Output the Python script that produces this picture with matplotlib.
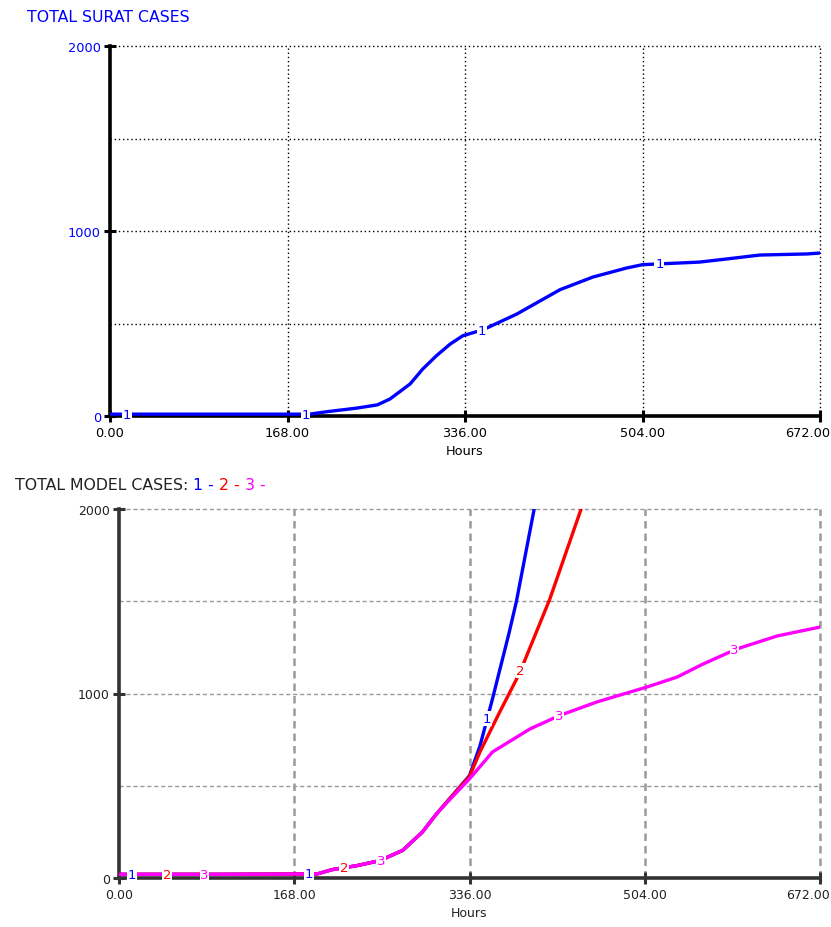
import numpy as np
import matplotlib
matplotlib.use("Agg")
import matplotlib.pyplot as plt
from matplotlib.transforms import ScaledTranslation

# ---------------- data ----------------
x_ticks = [0, 168, 336, 504, 672]
x_tick_labels = ["0.00", "168.00", "336.00", "504.00", "672.00"]
y_ticks = [0, 1000, 2000]
y_tick_labels = ["0", "1000", "2000"]
y_grid = [500, 1000, 1500, 2000]

surat_hours = [0, 100, 175, 189, 205, 234, 253, 265, 284, 296, 309, 322, 334, 353,
               385, 426, 457, 489, 504, 558, 584, 615, 660, 672]
surat_cases = [10, 10, 10, 10, 23, 43, 60, 92, 173, 254, 326, 389, 434, 466,
               551, 683, 751, 800, 818, 832, 849, 870, 876, 881]
surat_label_hours = [16, 185, 352, 520]

m1_hours = [0, 100, 190, 204, 228, 250, 272, 291, 304, 317, 336, 346, 358, 374, 381, 398]
m1_cases = [20, 20, 22, 45, 67, 94, 150, 250, 345, 430, 555, 715, 970, 1330, 1500, 2000]
m2_hours = [0, 100, 190, 204, 228, 250, 272, 291, 304, 317, 336, 346, 365, 384, 413, 443]
m2_cases = [20, 20, 22, 45, 67, 94, 150, 250, 345, 430, 550, 683, 900, 1110, 1512, 2000]
m3_hours = [0, 100, 190, 204, 228, 250, 272, 291, 304, 317, 336, 358, 394, 422, 458,
            506, 535, 560, 592, 631, 672]
m3_cases = [20, 20, 22, 45, 67, 94, 150, 250, 345, 425, 537, 683, 808, 880, 954,
            1035, 1089, 1160, 1241, 1312, 1360]
m1_label_hours = [12.5, 182, 353]
m2_label_hours = [46, 216, 385]
m3_label_hours = [82, 251, 422, 590]

BLUE = "#0000ff"
RED = "#ff0000"
MAG = "#ff00ff"

W, H = 831, 928
plt.rcParams['font.family'] = ['DejaVu Sans']
fig = plt.figure(figsize=(W / 100, H / 100), dpi=100)


def make_axes(left, right, top, bottom):
    return fig.add_axes([left / W, 1 - bottom / H, (right - left) / W, (bottom - top) / H])


def style_axes(ax, grid_color, grid_ls, grid_lw, vgrid_lw, spine_color, ylab_color, text_color, tick_fs):
    ax.set_xlim(0, 672)
    ax.set_ylim(0, 2000)
    for s in ["top", "right"]:
        ax.spines[s].set_visible(False)
    for s in ["left", "bottom"]:
        ax.spines[s].set_linewidth(2.6)
        ax.spines[s].set_color(spine_color)
        ax.spines[s].set_zorder(1.5)
    for v in y_grid:
        ax.axhline(v, color=grid_color, ls=grid_ls, lw=grid_lw, clip_on=False, zorder=1)
    for h in x_ticks[1:]:
        ax.axvline(h, color=grid_color, ls=grid_ls, lw=vgrid_lw, clip_on=False, zorder=1)
    ax.set_xticks(x_ticks)
    ax.set_xticklabels(x_tick_labels)
    ax.set_yticks(y_ticks)
    ax.set_yticklabels(y_tick_labels)
    ax.tick_params(axis="both", direction="inout", length=9, width=2.2, color=spine_color,
                   labelsize=tick_fs)
    ax.tick_params(axis="x", pad=3, labelcolor=text_color)
    ax.tick_params(axis="y", pad=2, labelcolor=ylab_color)
    ax.set_xlabel("Hours", fontsize=tick_fs, labelpad=3, color=text_color)
    # keep the last tick label inside the figure, as in the reference
    last = ax.get_xticklabels()[-1]
    last.set_transform(last.get_transform() + ScaledTranslation(-12 / 100, 0, fig.dpi_scale_trans))
    ax.patch.set_alpha(0)


def curve_labels(ax, hours, values, label_hours, text, color):
    for h in label_hours:
        v = np.interp(h, hours, values)
        ax.text(h, v, text, color=color, fontsize=9.5, ha="center", va="center", zorder=5,
                bbox=dict(boxstyle="square,pad=0.05", fc="white", ec="none"))


# ---------------- top chart ----------------
ax1 = make_axes(110, 820, 47, 417)
style_axes(ax1, "black", (0, (1, 2)), 1.0, 1.0, "black", BLUE, "black", 9.3)
ax1.plot(surat_hours, surat_cases, color=BLUE, lw=2.4, zorder=3)
curve_labels(ax1, surat_hours, surat_cases, surat_label_hours, "1", BLUE)
fig.text(27 / W, 1 - 18 / H, "TOTAL SURAT CASES", color=BLUE, fontsize=11.3, va="center", ha="left")

# ---------------- bottom chart ----------------
ax2 = make_axes(119, 820, 510, 879)
style_axes(ax2, "#9a9a9a", (0, (3, 2)), 1.0, 1.8, "#333333", "#222222", "#222222", 9)
ax2.plot(m1_hours, m1_cases, color=BLUE, lw=2.4, zorder=3)
ax2.plot(m2_hours, m2_cases, color=RED, lw=2.4, zorder=3)
ax2.plot(m3_hours, m3_cases, color=MAG, lw=2.4, zorder=3)
curve_labels(ax2, m1_hours, m1_cases, m1_label_hours, "1", BLUE)
curve_labels(ax2, m2_hours, m2_cases, m2_label_hours, "2", RED)
curve_labels(ax2, m3_hours, m3_cases, m3_label_hours, "3", MAG)

# title with coloured series numbers
fig.canvas.draw()
renderer = fig.canvas.get_renderer()
parts = [("TOTAL MODEL CASES: ", "#222222"), ("1 - ", BLUE), ("2 - ", RED), ("3 - ", MAG)]
xpix = 15
for txt, col in parts:
    t = fig.text(xpix / W, 1 - 485 / H, txt, color=col, fontsize=11.3, va="center", ha="left")
    bb = t.get_window_extent(renderer=renderer)
    xpix += bb.width

fig.savefig("out.png", dpi=100)
